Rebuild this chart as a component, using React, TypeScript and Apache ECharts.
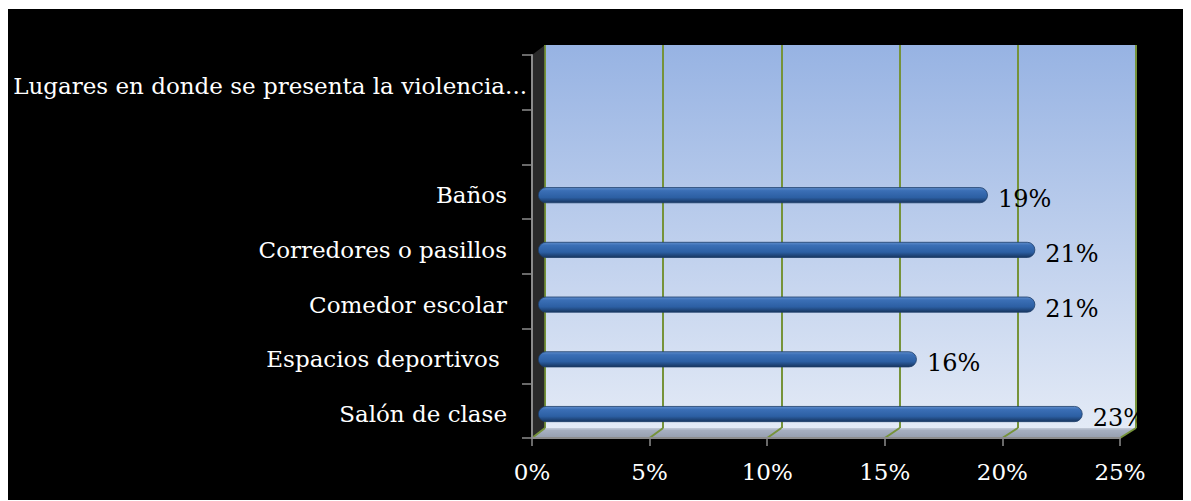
import React, { useEffect, useRef } from "react";
import * as echarts from "echarts";

const categories = [
  "Salón de clase",
  "Espacios deportivos ",
  "Comedor escolar",
  "Corredores o pasillos",
  "Baños",
  "",
  "Lugares en donde se presenta la violencia...",
];
const values: (number | null)[] = [23, 16, 21, 21, 19, null, null];
const xTicks = [0, 5, 10, 15, 20, 25];

const W = 1183;
const H = 492;
// front plane
const FL = 524, FT = 46, FW = 588, FH = 383;
// back plane
const BL = 537, BT = 36, BW = 591, BH = 383;
// bar plane
const RL = 530, RT = 49.4, RW = 592, RH = 383;

const FONT = "DejaVu Serif";
const GREEN = "#76933a";

export default function App() {
  const ref = useRef<HTMLDivElement>(null);
  useEffect(() => {
    if (!ref.current) return;
    const chart = echarts.init(ref.current, undefined, { renderer: "svg" });
    const n = xTicks.length - 1;
    const floorLines = xTicks.map((_, k) => ({
      type: "line",
      z: 2,
      shape: {
        x1: BL + (k * BW) / n,
        y1: BT + BH,
        x2: FL + (k * FW) / n,
        y2: FT + FH,
      },
      style: { stroke: GREEN, lineWidth: 2 },
    }));
    chart.setOption({
      animation: false,
      backgroundColor: "#000000",
      grid: [
        { left: FL, top: FT, width: FW, height: FH },
        {
          left: BL,
          top: BT,
          width: BW,
          height: BH,
          show: true,
          borderWidth: 0,
          backgroundColor: new echarts.graphic.LinearGradient(0, 0, 0, 1, [
            { offset: 0, color: "#97b3e3" },
            { offset: 1, color: "#e3eaf6" },
          ]),
        },
        { left: RL, top: RT, width: RW, height: RH },
      ],
      xAxis: [
        {
          gridIndex: 0,
          type: "value",
          min: 0,
          max: 25,
          interval: 5,
          z: 10,
          axisLine: { show: true, lineStyle: { color: "#8c8c8c", width: 2 } },
          axisTick: { show: true, length: 8, lineStyle: { color: "#8c8c8c", width: 1.5 } },
          splitLine: { show: false },
          axisLabel: {
            color: "#ffffff",
            fontFamily: FONT,
            fontSize: 23,
            margin: 22,
            formatter: "{value}%",
          },
        },
        {
          gridIndex: 1,
          type: "value",
          min: 0,
          max: 25,
          interval: 5,
          axisLine: { show: false },
          axisTick: { show: false },
          axisLabel: { show: false },
          splitLine: { show: true, lineStyle: { color: GREEN, width: 2 } },
        },
        {
          gridIndex: 2,
          type: "value",
          min: 0,
          max: 25,
          interval: 5,
          show: false,
        },
      ],
      yAxis: [
        {
          gridIndex: 0,
          type: "category",
          data: categories,
          z: 10,
          axisLine: { show: true, lineStyle: { color: "#8c8c8c", width: 2 } },
          axisTick: { show: true, length: 10, lineStyle: { color: "#8c8c8c", width: 1.5 } },
          axisLabel: { show: false },
          splitLine: { show: false },
        },
        {
          gridIndex: 1,
          type: "category",
          data: categories,
          show: false,
        },
        {
          gridIndex: 2,
          type: "category",
          data: categories,
          axisLine: { show: false },
          axisTick: { show: false },
          splitLine: { show: false },
          axisLabel: {
            color: "#ffffff",
            fontFamily: FONT,
            fontSize: 23,
            margin: 11,
            formatter: (v: string) =>
              v === categories[categories.length - 1] ? `{l|${v}}` : v ? `{p|${v}}` : "",
            rich: {
              p: { color: "#ffffff", fontFamily: FONT, fontSize: 23, padding: [0, 20, 0, 0] },
              l: { color: "#ffffff", fontFamily: FONT, fontSize: 23 },
            },
          },
        },
      ],
      graphic: [
        {
          type: "polygon",
          z: 1,
          shape: {
            points: [
              [FL, FT],
              [BL, BT],
              [BL, BT + BH],
              [FL, FT + FH],
            ],
          },
          style: { fill: "#2a2a2a" },
        },
        {
          type: "polygon",
          z: 1,
          shape: {
            points: [
              [FL, FT + FH],
              [BL, BT + BH],
              [BL + BW, BT + BH],
              [FL + FW, FT + FH],
            ],
          },
          style: {
            fill: new echarts.graphic.LinearGradient(0, 0, 0, 1, [
              { offset: 0, color: "#c3cbd9" },
              { offset: 0.25, color: "#a6afc0" },
              { offset: 1, color: "#959eae" },
            ]),
          },
        },
        {
          type: "line",
          z: 2,
          shape: { x1: BL, y1: BT, x2: BL, y2: BT + BH },
          style: { stroke: GREEN, lineWidth: 1.5 },
        },
        ...floorLines,
      ],
      series: [
        {
          type: "bar",
          xAxisIndex: 2,
          yAxisIndex: 2,
          data: values,
          barWidth: 16,
          z: 5,
          itemStyle: {
            borderRadius: 8,
            borderColor: "#1d3d6a",
            borderWidth: 0.8,
            color: new echarts.graphic.LinearGradient(0, 0, 0, 1, [
              { offset: 0, color: "#5f8dcc" },
              { offset: 0.2, color: "#3b6fb6" },
              { offset: 0.65, color: "#2c5fa3" },
              { offset: 1, color: "#17355f" },
            ]),
          },
          label: {
            show: true,
            position: "right",
            distance: 10,
            offset: [0, 4],
            color: "#000000",
            fontFamily: FONT,
            fontSize: 24,
            formatter: (p: any) => `${p.value}%`,
          },
        },
      ],
    });
    return () => chart.dispose();
  }, []);
  return (
    <div
      ref={ref}
      style={{ width: W, height: H, position: "relative", top: 1 }}
    />
  );
}
